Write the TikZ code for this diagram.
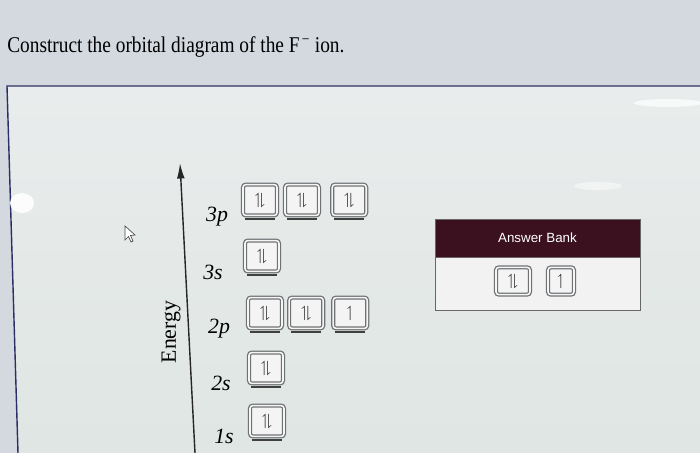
\documentclass[tikz,border=0pt]{standalone}
\usepackage{amssymb}
\usepackage{fontspec}
\setmainfont{Liberation Serif}
\setsansfont{Liberation Sans}
\usetikzlibrary{shapes,arrows,arrows.meta,positioning}

\definecolor{fundal}{HTML}{D3D9DF}
\definecolor{panou}{HTML}{E9ECEC}
\definecolor{panoujos}{HTML}{DFE6E3}
\definecolor{chenar}{HTML}{2C2F66}
\definecolor{bordo}{HTML}{3B1120}
\definecolor{gricasuta}{HTML}{6F7274}

\tikzset{
  casuta/.style={draw=gricasuta, line width=0.9pt, double=gray!8, double distance=1.1pt,
    fill=gray!9, rounded corners=2pt, minimum width=0.85cm, minimum height=0.77cm,
    inner sep=0pt, font=\fontsize{11.5}{12}\selectfont\boldmath},
  nivel/.style={font=\fontsize{15.5}{16}\selectfont\itshape},
  linie/.style={line width=1.4pt, black!75}
}
\newcommand{\pereche}{$\upharpoonleft\!\downharpoonright$}
\newcommand{\singur}{$\upharpoonleft$}

\begin{document}
\begin{tikzpicture}[x=0.025cm, y=-0.025cm, >={Latex[length=11pt,width=5.5pt]}, node distance=1.05cm]

  % Fundal si chenar
  \useasboundingbox (0,0) rectangle (700,453);
  \fill [fundal] (0,0) rectangle (700,453);
  \shade [top color=panou, bottom color=panoujos] (7,86) -- (700,86) -- (700,453) -- (18,453) -- cycle;
  \draw [chenar, line width=1pt] (18,453) -- (7,86) -- (700,86);

  % Reflexii
  \fill [white, opacity=0.9] (22,203) ellipse (12 and 10);
  \fill [white, opacity=0.7] (668,103) ellipse (34 and 4);
  \fill [white, opacity=0.5] (598,186) ellipse (24 and 4);

  % Titlu
  \node [anchor=base west, inner sep=0pt, font=\fontsize{16}{18}\selectfont] (titlu) at (7,53)
    {\scalebox{0.86}[1]{Construct the orbital diagram of the F\textsuperscript{\,−} ion.}};

  % Cursor
  \draw [black!70, fill=white, line width=0.5pt] (125,226) -- (125,240) -- (128.5,236.5) -- (131,242) -- (133,241) -- (130.5,235.5) -- (135,235) -- cycle;

  % Axa energiei
  \coordinate (axajos) at (195,453);
  \coordinate (axasus) at (180,163);
  \draw [->, line width=1pt, black!85] (axajos) -- (axasus);
  \node [rotate=90, font=\fontsize{15.5}{16}\selectfont] (energie) at (171,332) {Energy};

  % Orbitali 3p si 3s
  \node [casuta] (o3p1) at (260,200) {\pereche};
  \node [casuta, right of=o3p1] (o3p2) {\pereche};
  \node [casuta, right of=o3p2, node distance=1.18cm] (o3p3) {\pereche};
  \node [casuta] (o3s) at (262,256) {\pereche};

  % Orbitali 2p, 2s, 1s
  \node [casuta] (o2p1) at (265,313) {\pereche};
  \node [casuta, right of=o2p1, node distance=1.03cm] (o2p2) {\pereche};
  \node [casuta, right of=o2p2, node distance=1.1cm] (o2p3) {\singur};
  \node [casuta] (o2s) at (266,368) {\pereche};
  \node [casuta] (o1s) at (267,421) {\pereche};

  % Etichete
  \node [nivel] (e3p) at (217,217) {3p};
  \node [nivel] (e3s) at (213,272) {3s};
  \node [nivel] (e2p) at (219,329) {2p};
  \node [nivel] (e2s) at (221,383) {2s};
  \node [nivel] (e1s) at (224,436) {1s};

  % Linii de nivel
  \draw [linie] ([xshift=2pt,yshift=-2.2pt]o3p1.south west) -- ([xshift=-2pt,yshift=-2.2pt]o3p1.south east);
  \draw [linie] ([xshift=2pt,yshift=-2.2pt]o3p2.south west) -- ([xshift=-2pt,yshift=-2.2pt]o3p2.south east);
  \draw [linie] ([xshift=2pt,yshift=-2.2pt]o3p3.south west) -- ([xshift=-2pt,yshift=-2.2pt]o3p3.south east);
  \draw [linie] ([xshift=2pt,yshift=-2.2pt]o3s.south west) -- ([xshift=-2pt,yshift=-2.2pt]o3s.south east);
  \draw [linie] ([xshift=2pt,yshift=-2.2pt]o2p1.south west) -- ([xshift=-2pt,yshift=-2.2pt]o2p1.south east);
  \draw [linie] ([xshift=2pt,yshift=-2.2pt]o2p2.south west) -- ([xshift=-2pt,yshift=-2.2pt]o2p2.south east);
  \draw [linie] ([xshift=2pt,yshift=-2.2pt]o2p3.south west) -- ([xshift=-2pt,yshift=-2.2pt]o2p3.south east);
  \draw [linie] ([xshift=2pt,yshift=-2.2pt]o2s.south west) -- ([xshift=-2pt,yshift=-2.2pt]o2s.south east);
  \draw [linie] ([xshift=2pt,yshift=-2.2pt]o1s.south west) -- ([xshift=-2pt,yshift=-2.2pt]o1s.south east);

  % Banca de raspunsuri
  \node [draw=black!60, fill=bordo, text=white, minimum width=5.125cm, minimum height=0.95cm,
    inner sep=0pt, font=\sffamily\fontsize{9.5}{11}\selectfont] (antet) at (537.5,238) {Answer Bank};
  \node [draw=black!60, fill=white!90!gray, minimum width=5.125cm, minimum height=1.325cm,
    below=0pt of antet, inner sep=0pt] (banca) {};
  \node [casuta, minimum height=0.68cm] (bpereche) at (513,281) {\pereche};
  \node [casuta, minimum width=0.65cm, minimum height=0.68cm] (bsingur) at (561,281) {\singur};

\end{tikzpicture}
\end{document}
